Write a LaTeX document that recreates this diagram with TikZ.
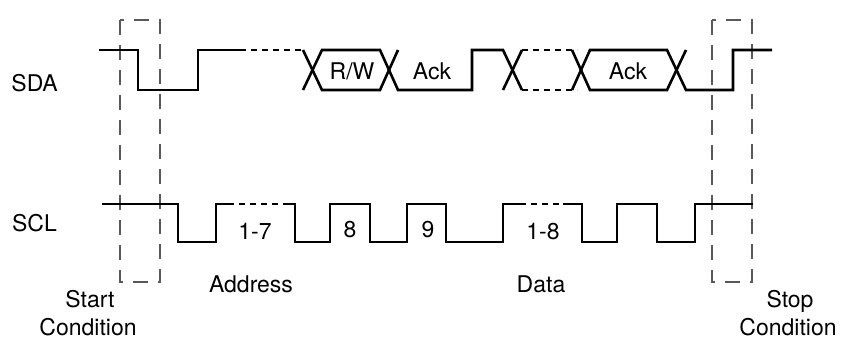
\documentclass[tikz,border=0pt]{standalone}
\usepackage{fontspec}
\setmainfont{TeX Gyre Heros}
\begin{document}
\begin{tikzpicture}[x=1pt,y=-1pt,
  wave/.style={line width=2.6pt,line join=miter,black},
  dotwave/.style={line width=2.6pt,black,dash pattern=on 6pt off 5pt},
  condbox/.style={line width=1.6pt,black!65,dash pattern=on 15pt off 10pt},
  lbl/.style={font=\fontsize{23}{27}\selectfont,inner sep=0pt,anchor=base},
  sig/.style={font=\fontsize{23}{27}\selectfont,inner sep=0pt,anchor=base east}]
\useasboundingbox (0,0) rectangle (841,339);
% condition boxes
\draw[condbox] (120,20) rectangle (160,282);
\draw[condbox] (712,20) rectangle (752,282);
% SDA
\draw[wave] (99,50) -- (138,50) -- (138,90) -- (198,90) -- (198,50) -- (240,50);
\draw[dotwave] (240,50) -- (303,50);
\draw[wave] (303,90) -- (322,50) -- (380,50) -- (398,90) -- (472,90) -- (472,50) -- (503,50) -- (522,90);
\draw[wave] (303,50) -- (322,90) -- (380,90) -- (398,50);
\draw[wave] (503,90) -- (522,50);
\draw[dotwave] (522,50) -- (577,50);
\draw[dotwave] (522,90) -- (577,90);
\draw[wave] (572,50) -- (590,90) -- (667,90) -- (686,50);
\draw[wave] (572,90) -- (590,50) -- (667,50) -- (686,90) -- (733,90) -- (733,50) -- (772,50);
% SCL
\draw[wave] (102,204) -- (178,204) -- (178,242) -- (216,242) -- (216,204) -- (228,204);
\draw[dotwave] (228,204) -- (283,204);
\draw[wave] (283,204) -- (295,204) -- (295,242) -- (330,242) -- (330,204) -- (370,204) -- (370,242) -- (407,242) -- (407,204) -- (446,204) -- (446,242) -- (503,242) -- (503,204) -- (520,204);
\draw[dotwave] (520,204) -- (563,204);
\draw[wave] (563,204) -- (582,204) -- (582,242) -- (617,242) -- (617,204) -- (657,204) -- (657,242) -- (695,242) -- (695,204) -- (753,204);
% labels
\node[sig] (sda) at (58,92) {SDA};
\node[sig] (scl) at (57,232) {SCL};
\node[lbl] (rw) at (352,80) {R/W};
\node[lbl] (ack1) at (432,80) {Ack};
\node[lbl] (ack2) at (628,80) {Ack};
\node[lbl] (b17) at (255,240) {1-7};
\node[lbl] (b8) at (350,238) {8};
\node[lbl] (b9) at (428,238) {9};
\node[lbl] (b18) at (543,240) {1-8};
\node[lbl] (addr) at (251,293) {Address};
\node[lbl] (data) at (541,293) {Data};
\node[lbl] (start) at (90,308) {Start};
\node[lbl] (startc) at (88,335) {Condition};
\node[lbl] (stop) at (790,308) {Stop};
\node[lbl] (stopc) at (788,335) {Condition};
\end{tikzpicture}
\end{document}
